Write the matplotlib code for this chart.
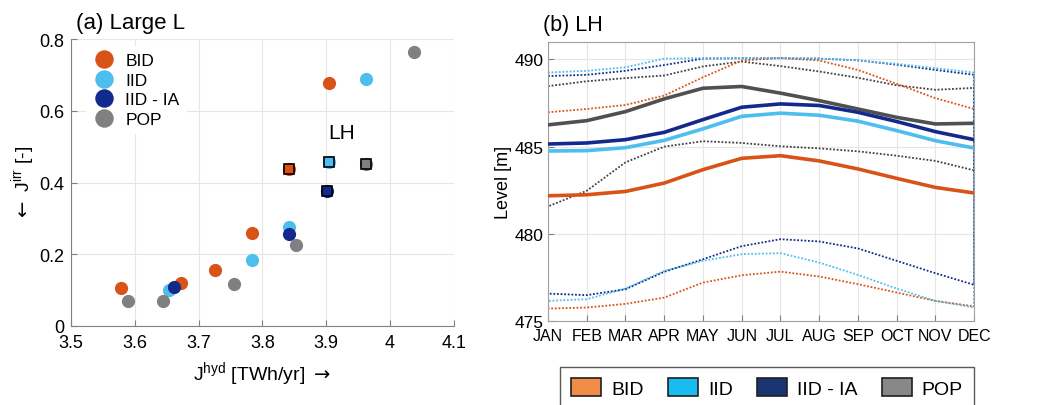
import matplotlib
matplotlib.use("Agg")
import matplotlib.pyplot as plt
from matplotlib.patches import Patch

plt.rcParams['font.family'] = ['Liberation Sans', 'DejaVu Sans']

# ---------------- data: panel (a) ----------------
groups = ["BID", "IID", "IID - IA", "POP"]
bid_x = [3.578, 3.672, 3.725, 3.784, 3.842, 3.904]
bid_y = [0.106, 0.120, 0.157, 0.259, 0.439, 0.677]
iid_x = [3.654, 3.783, 3.842, 3.904, 3.962]
iid_y = [0.100, 0.185, 0.276, 0.458, 0.690]
iia_x = [3.662, 3.842, 3.901]
iia_y = [0.109, 0.257, 0.376]
pop_x = [3.590, 3.645, 3.756, 3.852, 3.963, 4.038]
pop_y = [0.070, 0.070, 0.117, 0.227, 0.451, 0.765]
# LH points (squares)
lh_x = [3.842, 3.904, 3.901, 3.963]
lh_y = [0.439, 0.458, 0.376, 0.451]

# ---------------- data: panel (b) ----------------
months = ["JAN", "FEB", "MAR", "APR", "MAY", "JUN", "JUL", "AUG", "SEP", "OCT", "NOV", "DEC"]
bid_mean = [482.18, 482.24, 482.43, 482.91, 483.68, 484.33, 484.48, 484.18, 483.72, 483.18, 482.66, 482.34]
iid_mean = [484.75, 484.77, 484.94, 485.36, 486.02, 486.74, 486.92, 486.80, 486.46, 485.92, 485.34, 484.92]
iia_mean = [485.15, 485.21, 485.40, 485.82, 486.55, 487.26, 487.45, 487.36, 486.97, 486.44, 485.86, 485.40]
pop_mean = [486.25, 486.49, 487.01, 487.74, 488.35, 488.45, 488.07, 487.64, 487.16, 486.68, 486.30, 486.34]

bid_up = [486.97, 487.16, 487.39, 487.93, 488.98, 489.94, 490.09, 489.94, 489.40, 488.60, 487.78, 487.16]
iid_up = [489.25, 489.35, 489.55, 490.05, 490.08, 490.08, 490.08, 490.05, 489.95, 489.75, 489.50, 489.25]
iia_up = [489.05, 489.12, 489.35, 489.68, 490.05, 490.07, 490.07, 490.05, 489.95, 489.70, 489.40, 489.12]
pop_up = [488.47, 488.75, 488.93, 489.08, 489.60, 489.88, 489.62, 489.31, 488.95, 488.52, 488.26, 488.37]

bid_lo = [475.71, 475.77, 475.98, 476.34, 477.20, 477.62, 477.83, 477.55, 477.11, 476.63, 476.15, 475.84]
iid_lo = [476.15, 476.25, 476.86, 477.87, 478.45, 478.83, 478.89, 478.35, 477.64, 476.86, 476.15, 475.77]
iia_lo = [476.57, 476.48, 476.82, 477.82, 478.54, 479.29, 479.69, 479.56, 479.16, 478.45, 477.74, 477.07]
pop_lo = [481.57, 482.47, 484.10, 485.00, 485.31, 485.21, 485.02, 484.90, 484.73, 484.48, 484.18, 483.64]

# colours
c_bid = "#D95319"
c_iid = "#4DBEEE"
c_iia = "#132A8C"
c_pop = "#808080"
c_pop_line = "#505050"

fig = plt.figure(figsize=(10.6, 4.06), dpi=100)

# ---------------- panel (a) ----------------
ax1 = fig.add_axes([0.067, 0.1946, 0.361, 0.7064])
ms = 9.5
ax1.plot(bid_x, bid_y, 'o', color=c_bid, ms=ms, mec='none', label=groups[0], zorder=3)
ax1.plot(iid_x, iid_y, 'o', color=c_iid, ms=ms, mec='none', label=groups[1], zorder=3)
ax1.plot(iia_x, iia_y, 'o', color=c_iia, ms=ms, mec='none', label=groups[2], zorder=4)
ax1.plot(pop_x, pop_y, 'o', color=c_pop, ms=ms, mec='none', label=groups[3], zorder=3)
sq_cols = [c_bid, c_iid, c_iia, c_pop]
for xx, yy, cc in zip(lh_x, lh_y, sq_cols):
    ax1.plot([xx], [yy], 's', color=cc, ms=7.5, mec='black', mew=1.2, zorder=5)
ax1.text(3.924, 0.541, "LH", fontsize=15, ha='center', va='center')

ax1.set_xlim(3.5, 4.1)
ax1.set_ylim(0, 0.8)
ax1.set_xticks([3.5, 3.6, 3.7, 3.8, 3.9, 4.0, 4.1])
ax1.set_xticklabels(["3.5", "3.6", "3.7", "3.8", "3.9", "4", "4.1"])
ax1.set_yticks([0, 0.2, 0.4, 0.6, 0.8])
ax1.set_yticklabels(["0", "0.2", "0.4", "0.6", "0.8"])
ax1.grid(True, color="#E6E6E6", lw=0.8)
ax1.set_axisbelow(True)
for s in ['top', 'right']:
    ax1.spines[s].set_visible(False)
for s in ['left', 'bottom']:
    ax1.spines[s].set_color("#808080")
ax1.tick_params(direction='in', labelsize=13, length=4, color="#808080", pad=6)
ax1.tick_params(axis='y', pad=5)
ax1.set_xlabel(r"J$^{\mathregular{hyd}}$ [TWh/yr] $\rightarrow$", fontsize=14, labelpad=6)
ax1.set_ylabel(r"$\leftarrow$ J$^{\mathregular{irr}}$ [-]", fontsize=14, labelpad=1)
leg1 = ax1.legend(loc='upper left', bbox_to_anchor=(0.04, 0.975), frameon=True,
                  fontsize=12.5, markerscale=1.4,
                  handletextpad=0.65, labelspacing=0.25, borderaxespad=0.0,
                  borderpad=0.4, handlelength=1.2)
leg1.get_frame().set_edgecolor('none')
leg1.get_frame().set_facecolor('white')
leg1.get_frame().set_alpha(1)
fig.text(0.072, 0.943, "(a) Large L", fontsize=16, va='center', ha='left')

# ---------------- panel (b) ----------------
ax2 = fig.add_axes([0.517, 0.207, 0.402, 0.687])
xi = list(range(len(months)))

def envelope(up, lo, col, lw=1.3):
    xs = xi + xi[::-1] + [xi[0]]
    ys = up + lo[::-1] + [up[0]]
    ax2.plot(xs, ys, linestyle=(0, (1, 1)), color=col, lw=lw, zorder=2)

envelope(pop_up, pop_lo, "#404040")
envelope(bid_up, bid_lo, c_bid)
envelope(iia_up, iia_lo, c_iia)
envelope(iid_up, iid_lo, c_iid)

ax2.plot(xi, bid_mean, color=c_bid, lw=2.6, zorder=3)
ax2.plot(xi, iid_mean, color=c_iid, lw=2.6, zorder=3)
ax2.plot(xi, pop_mean, color=c_pop_line, lw=2.6, zorder=3)
ax2.plot(xi, iia_mean, color=c_iia, lw=2.6, zorder=4)

ax2.set_xlim(0, 11)
ax2.set_ylim(475, 491)
ax2.set_xticks(xi)
ax2.set_xticklabels(months)
ax2.set_yticks([475, 480, 485, 490])
ax2.grid(True, color="#E6E6E6", lw=0.8)
ax2.set_axisbelow(True)
for s in ax2.spines.values():
    s.set_color("#A0A0A0")
ax2.tick_params(direction='in', labelsize=12.5, length=4, color="#808080", pad=3)
ax2.tick_params(axis='x', labelsize=11.5, pad=5)
ax2.set_ylabel("Level [m]", fontsize=13, labelpad=2)
fig.text(0.512, 0.937, "(b) LH", fontsize=15.5, va='center', ha='left')

handles = [Patch(facecolor="#F08C46", edgecolor='#202020', lw=1.2, label="BID"),
           Patch(facecolor="#1ABCF0", edgecolor='#202020', lw=1.2, label="IID"),
           Patch(facecolor="#1A3470", edgecolor='#202020', lw=1.2, label="IID - IA"),
           Patch(facecolor="#888888", edgecolor='#202020', lw=1.2, label="POP")]
leg2 = fig.legend(handles=handles, loc='upper center', bbox_to_anchor=(0.7236, 0.118),
                  ncol=4, fontsize=14, frameon=True, fancybox=False,
                  handlelength=1.55, handleheight=1.0, columnspacing=1.25,
                  handletextpad=0.5, borderpad=0.6)
leg2.get_frame().set_edgecolor('#303030')
leg2.get_frame().set_linewidth(1.0)

fig.savefig("out.png", dpi=100)
